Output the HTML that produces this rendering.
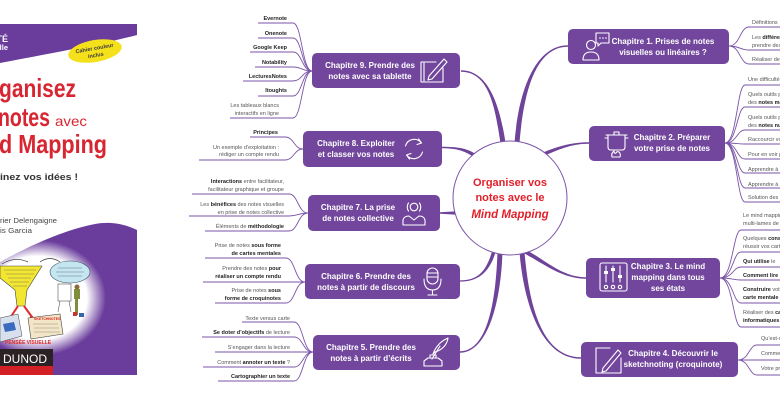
<!DOCTYPE html>
<html>
<head>
<meta charset="utf-8">
<style>
html,body{margin:0;padding:0;background:#fff;}
body{width:780px;height:405px;overflow:hidden;}
svg{display:block;}
</style>
</head>
<body>
<svg width="780" height="405" viewBox="0 0 780 405" xmlns="http://www.w3.org/2000/svg" font-family="'Liberation Sans', Arial, sans-serif">
<defs>
<radialGradient id="wg" cx="0.5" cy="0.5" r="0.5">
<stop offset="0" stop-color="#fff" stop-opacity="1"/>
<stop offset="0.72" stop-color="#fff" stop-opacity="1"/>
<stop offset="1" stop-color="#fff" stop-opacity="0"/>
</radialGradient>
</defs>

<!-- ===== BOOK COVER ===== -->
<g>
<path d="M0,24 H137 V35 C115,41 70,50 0,63 Z" fill="#6a3c9c"/>
<text x="8" y="42" font-size="9" font-weight="bold" fill="#fff" text-anchor="end">NOUVEAUTÉ</text>
<text x="8" y="50" font-size="7.5" font-weight="bold" fill="#fff" text-anchor="end">Nouvelle</text>
<ellipse cx="95" cy="51" rx="27" ry="11" fill="#f4e11b" transform="rotate(-10 95 51)"/>
<g transform="rotate(-10 95 51)" font-size="5.5" font-weight="bold" fill="#3a3a3a" text-anchor="middle">
<text x="95" y="50">Cahier couleur</text>
<text x="95" y="57">inclus</text>
</g>
<g fill="#d72631" font-weight="bold">
<text x="-1" y="97" font-size="26" textLength="77" lengthAdjust="spacingAndGlyphs">ganisez</text>
<text x="-2" y="126" font-size="26" textLength="52" lengthAdjust="spacingAndGlyphs">notes</text>
<text x="55" y="126" font-size="14" font-weight="normal" textLength="32" lengthAdjust="spacingAndGlyphs">avec</text>
<text x="-1" y="153" font-size="26" textLength="108" lengthAdjust="spacingAndGlyphs">d Mapping</text>
</g>
<text x="0" y="180" font-size="9" font-weight="bold" fill="#333" textLength="78" lengthAdjust="spacingAndGlyphs">inez vos idées !</text>
<text x="0" y="223" font-size="7.5" fill="#444" textLength="57" lengthAdjust="spacingAndGlyphs">rier Delengaigne</text>
<text x="0" y="233" font-size="7.5" fill="#444" textLength="32" lengthAdjust="spacingAndGlyphs">is Garcia</text>
<path d="M137,230 C125,224 110,221 95,224 C70,229 40,240 0,262 V375 H137 Z" fill="#6a3c9c"/>
<ellipse cx="38" cy="298" rx="68" ry="58" fill="url(#wg)"/>
<!-- illustrations -->
<path d="M0,266 H42 L27,290 L25,306 H17 L15,290 L0,278 Z" fill="#f2e631" stroke="#444" stroke-width="0.6"/>
<g stroke="#666" stroke-width="0.4">
<path d="M4,270 H36 M6,274 H34 M8,278 H31 M10,282 H29 M13,286 H27"/>
</g>
<path d="M2,264 Q15,256 28,262 M40,262 Q50,255 60,262" fill="none" stroke="#333" stroke-width="0.7"/>
<ellipse cx="70" cy="272" rx="20" ry="11" fill="#c4e6f0" stroke="#456" stroke-width="0.6"/>
<g stroke="#557" stroke-width="0.4"><path d="M58,268 H82 M56,272 H84 M58,276 H82"/></g>
<rect x="58" y="284" width="13" height="17" fill="#fff" stroke="#555" stroke-width="0.6"/>
<path d="M60,301 L58,312 M69,301 L71,312" stroke="#555" stroke-width="0.6"/>
<path d="M74,289 h6 v10 h-2 v16 h-3 v-16 h-1 Z" fill="#7f8f3a"/>
<circle cx="77" cy="287" r="2.5" fill="#8a6a3a"/>
<rect x="73" y="312" width="4" height="4" fill="#c33"/>
<rect x="79" y="313" width="5" height="4" fill="#36a"/>
<path d="M18,306 L10,318 M24,306 L32,317" stroke="#e02a2a" stroke-width="2"/>
<path d="M7,316 l6,3 l-5,2 Z M30,314 l5,4 l-5,1 Z" fill="#e02a2a"/>
<path d="M0,318 L18,314 L22,336 L0,342 Z" fill="#d8e0ee" stroke="#444" stroke-width="0.5"/>
<path d="M3,324 L14,322 L16,330 L5,332 Z" fill="#3a6bbf"/>
<path d="M28,318 L60,314 L63,334 L31,339 Z" fill="#f3e6c6" stroke="#444" stroke-width="0.6"/>
<text x="34" y="320" font-size="3.5" font-weight="bold" fill="#d22">SKETCHNOTES</text>
<g stroke="#777" stroke-width="0.4"><path d="M33,324 H58 M34,328 H59 M34,332 H60"/></g>
<text x="5" y="344" font-size="5" font-weight="bold" fill="#e02a2a">PENSÉE  VISUELLE</text>
<rect x="0" y="349" width="53" height="17" fill="#2b2224"/>
<text x="3" y="363" font-size="12" fill="#fff" textLength="44" lengthAdjust="spacingAndGlyphs">DUNOD</text>
<rect x="0" y="366" width="53" height="9" fill="#d32027"/>
</g>

<!-- ===== LEAF CONNECTORS ===== -->
<g fill="none" stroke="#7b55a8" stroke-width="0.9">
<!-- ch9 -->
<path d="M258,23 H293 C302,23 302,71 312,71"/>
<path d="M258,38 H293 C302,38 302,71 312,71"/>
<path d="M250,52 H293 C302,52 302,71 312,71"/>
<path d="M255,67 H293 C302,67 302,71 312,71"/>
<path d="M243,81 H293 C302,81 302,71 312,71"/>
<path d="M258,96 H293 C302,96 302,71 312,71"/>
<path d="M230,118 H293 C302,118 302,71 312,71"/>
<!-- ch8 -->
<path d="M250,137 H285 C294,137 294,149 303,149"/>
<path d="M199,160 H285 C294,160 294,149 303,149"/>
<!-- ch7 -->
<path d="M192,194 H289 C298,194 298,213 308,213"/>
<path d="M189,216 H289 C298,216 298,213 308,213"/>
<path d="M205,231 H289 C298,231 298,213 308,213"/>
<!-- ch6 -->
<path d="M205,258 H286 C295,258 295,282 305,282"/>
<path d="M203,282 H305"/>
<path d="M215,303 H286 C295,303 295,282 305,282"/>
<!-- ch5 -->
<path d="M242,322 H294 C303,322 303,352 313,352"/>
<path d="M202,337 H294 C303,337 303,352 313,352"/>
<path d="M215,352 H313"/>
<path d="M203,367 H294 C303,367 303,352 313,352"/>
<path d="M218,381 H294 C303,381 303,352 313,352"/>
<!-- ch1 -->
<path d="M729,46 C740,46 740,27 749,27 H780"/>
<path d="M729,46 C740,46 740,50 749,50 H780"/>
<path d="M729,46 C740,46 740,64 749,64 H780"/>
<!-- ch2 -->
<path d="M725,143 C737,143 737,85 745,85 H780"/>
<path d="M725,143 C737,143 737,107 745,107 H780"/>
<path d="M725,143 C737,143 737,130 745,130 H780"/>
<path d="M725,143 C737,143 737,144 745,144 H780"/>
<path d="M725,143 C737,143 737,159 745,159 H780"/>
<path d="M725,143 C737,143 737,173 745,173 H780"/>
<path d="M725,143 C737,143 737,188 745,188 H780"/>
<path d="M725,143 C737,143 737,202 745,202 H780"/>
<!-- ch3 -->
<path d="M720,278 C733,278 733,230 741,230 H780"/>
<path d="M720,278 C733,278 733,252 741,252 H780"/>
<path d="M720,278 C733,278 733,267 741,267 H780"/>
<path d="M720,278 C733,278 733,280 741,280 H780"/>
<path d="M720,278 C733,278 733,303 741,303 H780"/>
<path d="M720,278 C733,278 733,327 741,327 H780"/>
<!-- ch4 -->
<path d="M738,360 C749,360 749,345 757,345 H780"/>
<path d="M738,360 H780"/>
<path d="M738,360 C749,360 749,375 757,375 H780"/>
</g>

<!-- ===== MAIN CONNECTORS ===== -->
<g fill="#6f4399">
<path d="M461,70.25 C490,70.25 500.5,109.6 505.5,142.6 L500.5,143.4 C495.5,110.4 490,71.75 461,71.75 Z"/>
<path d="M568,45.25 C540,45.25 519.5,79.8 514.5,142.8 L519.5,143.2 C524.5,80.2 540,46.75 568,46.75 Z"/>
<path d="M442,146.75 C458,146.75 466.9,148.5 474.9,153.5 L473.1,156.5 C465.1,151.5 458,148.25 442,148.25 Z"/>
<path d="M440,212.2 L457,211.3 L457,214.7 L440,213.8 Z"/>
<path d="M460,280.4 C478,280.4 486.3,271.5 492.3,250.5 L495.7,251.5 C489.7,272.5 478,281.6 460,281.6 Z"/>
<path d="M460,351.25 C485,351.25 495.5,309.9 497.5,251.9 L502.5,252.1 C500.5,310.1 485,352.75 460,352.75 Z"/>
<path d="M581,357.25 C540,357.25 528.5,299.8 524.5,251.8 L519.5,252.2 C523.5,300.2 540,358.75 581,358.75 Z"/>
<path d="M586,277.25 C562,277.25 545.9,260.2 524.9,249.2 L523.1,252.8 C544.1,263.8 562,278.75 586,278.75 Z"/>
<path d="M589,142.25 C570,142.25 555.3,147.4 543.3,152.4 L544.7,155.6 C556.7,150.6 570,143.75 589,143.75 Z"/>
</g>

<!-- ===== CENTER ===== -->
<circle cx="510" cy="198" r="57" fill="#fff" stroke="#7b55a8" stroke-width="1"/>
<g fill="#e3202a" font-weight="bold" text-anchor="middle" font-size="11">
<text x="510" y="186">Organiser vos</text>
<text x="510" y="201">notes avec le</text>
<text x="510" y="218" font-style="italic" font-size="11.5">Mind Mapping</text>
</g>

<!-- ===== CHAPTER BOXES ===== -->
<g fill="#71469c">
<rect x="312" y="53" width="148" height="35" rx="5"/>
<rect x="303" y="131" width="139" height="36" rx="5"/>
<rect x="308" y="195" width="132" height="36" rx="5"/>
<rect x="305" y="264" width="155" height="35" rx="5"/>
<rect x="313" y="335" width="147" height="35" rx="5"/>
<rect x="568" y="29" width="161" height="35" rx="5"/>
<rect x="589" y="126" width="136" height="35" rx="5"/>
<rect x="586" y="258" width="134" height="40" rx="5"/>
<rect x="581" y="342" width="157" height="35" rx="5"/>
</g>
<g fill="#fff" font-weight="bold" font-size="8" text-anchor="middle">
<text x="370" y="68">Chapitre 9. Prendre des</text>
<text x="370" y="79">notes avec sa tablette</text>
<text x="356" y="146">Chapitre 8. Exploiter</text>
<text x="356" y="157">et classer vos notes</text>
<text x="358" y="210">Chapitre 7. La prise</text>
<text x="358" y="221">de notes collective</text>
<text x="366" y="279">Chapitre 6. Prendre des</text>
<text x="366" y="290">notes à partir de discours</text>
<text x="371" y="350">Chapitre 5. Prendre des</text>
<text x="371" y="361">notes à partir d’écrits</text>
<text x="663" y="44">Chapitre 1. Prises de notes</text>
<text x="663" y="55">visuelles ou linéaires ?</text>
<text x="672" y="140">Chapitre 2. Préparer</text>
<text x="672" y="151">votre prise de notes</text>
<text x="668" y="269">Chapitre 3. Le mind</text>
<text x="668" y="280">mapping dans tous</text>
<text x="668" y="291">ses états</text>
<text x="673" y="356">Chapitre 4. Découvrir le</text>
<text x="673" y="367">sketchnoting (croquinote)</text>
</g>

<!-- ===== ICONS ===== -->
<g fill="none" stroke="#fff" stroke-width="1.1" stroke-linejoin="round" stroke-linecap="round">
<!-- ch9 tablet -->
<path d="M436,62 H421 V82 H443 V68"/>
<path d="M424,63 V81"/>
<path d="M429,76 L444,59 L447,62 L432,79 L428,80 Z"/>
<!-- ch8 cycle -->
<path d="M405.5,146 A9,9 0 0 1 421,142.5"/>
<path d="M418.5,139 L421.5,143 L417,144.5"/>
<path d="M422.5,152 A9,9 0 0 1 407,155.5"/>
<path d="M409.5,159 L406.5,155 L411,153.5"/>
<!-- ch7 person -->
<circle cx="414" cy="207" r="3.8"/>
<path d="M408.5,203 A7,7 0 0 0 408.5,211 M419.5,203 A7,7 0 0 1 419.5,211"/>
<path d="M403,225 V220 Q404,216 409,216 L414,220 L419,216 Q424,216 425,220 V225 Z"/>
<!-- ch6 mic -->
<rect x="427" y="268" width="11" height="16" rx="5.5"/>
<path d="M427,273 H438 M427,277 H438"/>
<path d="M424,279 Q424,290 432.5,290 Q441,290 441,279"/>
<path d="M432.5,290 V295 M428,295 H437"/>
<!-- ch5 inkwell -->
<path d="M424,366 H442 V361 L438,358 H428 L424,361 Z"/>
<path d="M430,358 V355 H436 V358"/>
<path d="M433,354 C436,346 441,341 448,338 C447,345 442,350 435,352 Z"/>
<path d="M432,359 L440,346"/>
<!-- ch1 person + bubble -->
<circle cx="591" cy="45" r="4.5"/>
<path d="M583,60 Q583,52 591,52 Q599,52 599,60 Z"/>
<path d="M596,33 H609 V43 H601 L598,46 V43 H596 Z"/>
<!-- ch2 pot -->
<path d="M606,135 H627"/>
<path d="M614,135 V132 H619 V135"/>
<path d="M608,135 V147 Q608,150 611,150 H622 Q625,150 625,147 V135"/>
<path d="M608,138 H605 M625,138 H628"/>
<path d="M612,157 Q611,153 614,151 Q614,154 616,153 Q617,151 619,152 Q621,154 620,157 Z"/>
<!-- ch3 sliders -->
<rect x="600" y="263" width="27" height="28" rx="2"/>
<path d="M606,266 V282 M613,266 V282 M620,266 V282"/>
<circle cx="606" cy="287" r="1.7"/>
<circle cx="613" cy="287" r="1.7"/>
<circle cx="620" cy="287" r="1.7"/>
<!-- ch4 square + pencil -->
<path d="M610,348 H596 V373 H621 V358"/>
<path d="M603,368 L618,350 L621,353 L606,371 L602,372 Z"/>
</g>
<g fill="#fff">
<circle cx="600" cy="38" r="0.8"/><circle cx="603" cy="38" r="0.8"/><circle cx="606" cy="38" r="0.8"/>
<rect x="604" y="271" width="4" height="3"/>
<rect x="611" y="268" width="4" height="3"/>
<rect x="618" y="275" width="4" height="3"/>
</g>

<!-- ===== LEAF TEXT LEFT ===== -->
<g font-size="5.5" fill="#555" text-anchor="end">
<g font-weight="bold" fill="#222">
<text x="287" y="20">Evernote</text>
<text x="287" y="35">Onenote</text>
<text x="287" y="49">Google Keep</text>
<text x="287" y="64">Notability</text>
<text x="287" y="78">LecturesNotes</text>
<text x="287" y="92">Itoughts</text>
<text x="278" y="134">Principes</text>
<text x="290" y="378">Cartographier un texte</text>
</g>
<text x="279" y="107">Les tableaux blancs</text>
<text x="279" y="115">interactifs en ligne</text>
<text x="279" y="149">Un exemple d’exploitation :</text>
<text x="279" y="156">rédiger un compte rendu</text>
<text x="284" y="183"><tspan font-weight="bold" fill="#222">Interactions</tspan> entre facilitateur,</text>
<text x="284" y="191">facilitateur graphique et groupe</text>
<text x="284" y="206">Les <tspan font-weight="bold" fill="#222">bénéfices</tspan> des notes visuelles</text>
<text x="284" y="214">en prise de notes collective</text>
<text x="284" y="228">Éléments de <tspan font-weight="bold" fill="#222">méthodologie</tspan></text>
<text x="281" y="247">Prise de notes <tspan font-weight="bold" fill="#222">sous forme</tspan></text>
<text x="281" y="255" font-weight="bold" fill="#222">de cartes mentales</text>
<text x="281" y="270">Prendre des notes <tspan font-weight="bold" fill="#222">pour</tspan></text>
<text x="281" y="278" font-weight="bold" fill="#222">réaliser un compte rendu</text>
<text x="281" y="292">Prise de notes <tspan font-weight="bold" fill="#222">sous</tspan></text>
<text x="281" y="300" font-weight="bold" fill="#222">forme de croquinotes</text>
<text x="290" y="320">Texte versus carte</text>
<text x="290" y="334"><tspan font-weight="bold" fill="#222">Se doter d’objectifs</tspan> de lecture</text>
<text x="290" y="349">S’engager dans la lecture</text>
<text x="290" y="364">Comment <tspan font-weight="bold" fill="#222">annoter un texte</tspan> ?</text>
</g>

<!-- ===== LEAF TEXT RIGHT ===== -->
<g font-size="5.5" fill="#555">
<text x="752" y="24">Définitions</text>
<text x="752" y="39">Les <tspan font-weight="bold" fill="#222">différences</tspan></text>
<text x="752" y="47">prendre des notes</text>
<text x="752" y="61">Réaliser des notes</text>
<text x="748" y="81">Une difficulté</text>
<text x="748" y="96">Quels outils pour</text>
<text x="748" y="104">des <tspan font-weight="bold" fill="#222">notes manuscrites</tspan></text>
<text x="748" y="119">Quels outils pour</text>
<text x="748" y="127">des <tspan font-weight="bold" fill="#222">notes numériques</tspan></text>
<text x="748" y="141">Raccourcir vos notes</text>
<text x="748" y="156">Pour en voir plus</text>
<text x="748" y="171">Apprendre à</text>
<text x="748" y="186">Apprendre à</text>
<text x="748" y="199">Solution des</text>
<text x="743" y="217">Le mind mapping</text>
<text x="743" y="225">multi-lames de</text>
<text x="743" y="240">Quelques <tspan font-weight="bold" fill="#222">conseils</tspan></text>
<text x="743" y="248">réussir vos cartes</text>
<text x="743" y="263"><tspan font-weight="bold" fill="#222">Qui utilise</tspan> le</text>
<text x="743" y="277" font-weight="bold" fill="#222">Comment lire</text>
<text x="743" y="291"><tspan font-weight="bold" fill="#222">Construire</tspan> votre</text>
<text x="743" y="299" font-weight="bold" fill="#222">carte mentale</text>
<text x="743" y="314">Réaliser des <tspan font-weight="bold" fill="#222">cartes</tspan></text>
<text x="743" y="322" font-weight="bold" fill="#222">informatiques</text>
<text x="761" y="340">Qu’est-ce que</text>
<text x="761" y="355">Comment</text>
<text x="761" y="370">Votre premier</text>
</g>
</svg>
</body>
</html>
